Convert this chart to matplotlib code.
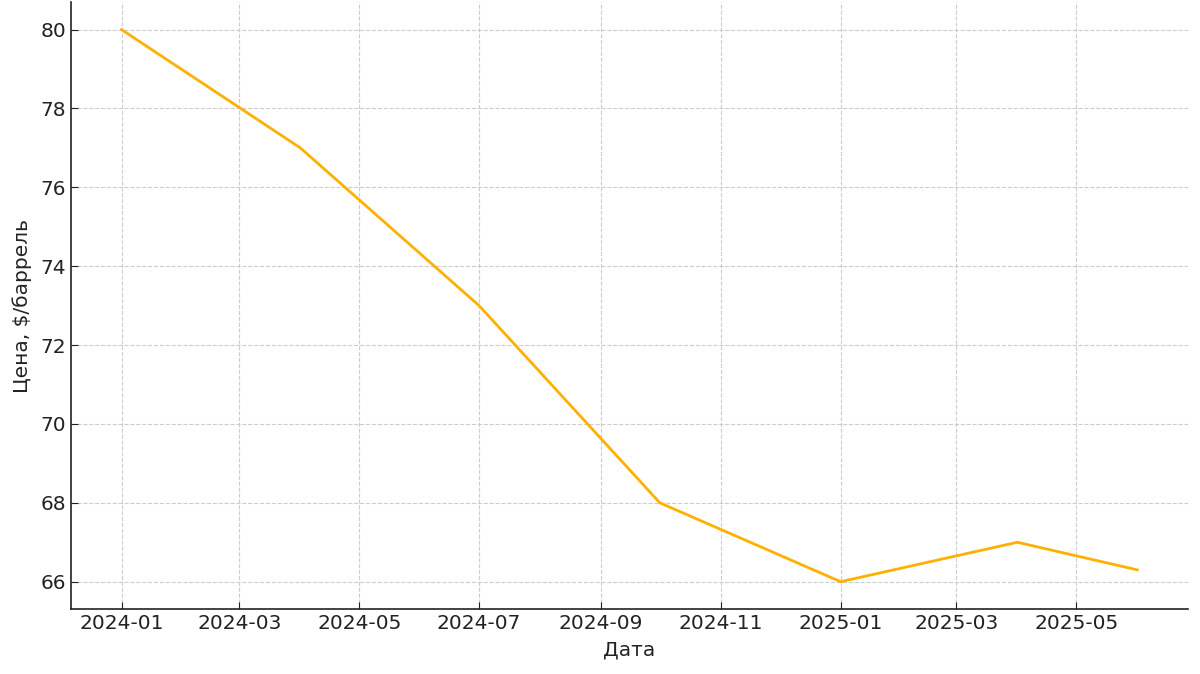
import matplotlib
matplotlib.use("Agg")
import matplotlib.pyplot as plt
import matplotlib.dates as mdates
import numpy as np

dates = np.array(["2024-01-01", "2024-04-01", "2024-07-01", "2024-10-01",
                  "2025-01-01", "2025-04-01", "2025-06-01"], dtype="datetime64[D]")
price = [80, 77, 73, 68, 66, 67, 66.3]

fig = plt.figure(figsize=(12, 6.74), dpi=100)
ax = fig.add_axes([0.059, 0.096, 0.931, 0.901])

ax.plot(dates, price, color="#FFB000", lw=2)

ax.xaxis.set_major_locator(mdates.MonthLocator(bymonth=[1, 3, 5, 7, 9, 11]))
ax.xaxis.set_major_formatter(mdates.DateFormatter("%Y-%m"))
ax.set_yticks(range(66, 81, 2))

ax.grid(True, ls="--", color="#cccccc", lw=0.8)
ax.set_axisbelow(True)
for s in ["top", "right"]:
    ax.spines[s].set_visible(False)
for s in ["left", "bottom"]:
    ax.spines[s].set_color("#222222")
    ax.spines[s].set_linewidth(1.2)

ax.tick_params(direction="in", labelsize=14.5, colors="#222222", length=5)
ax.set_xlabel("Дата", fontsize=14.5, color="#222222", labelpad=5)
ax.set_ylabel("Цена, $/баррель", fontsize=14.5, color="#222222", labelpad=6)

fig.savefig("out.png", dpi=100)
